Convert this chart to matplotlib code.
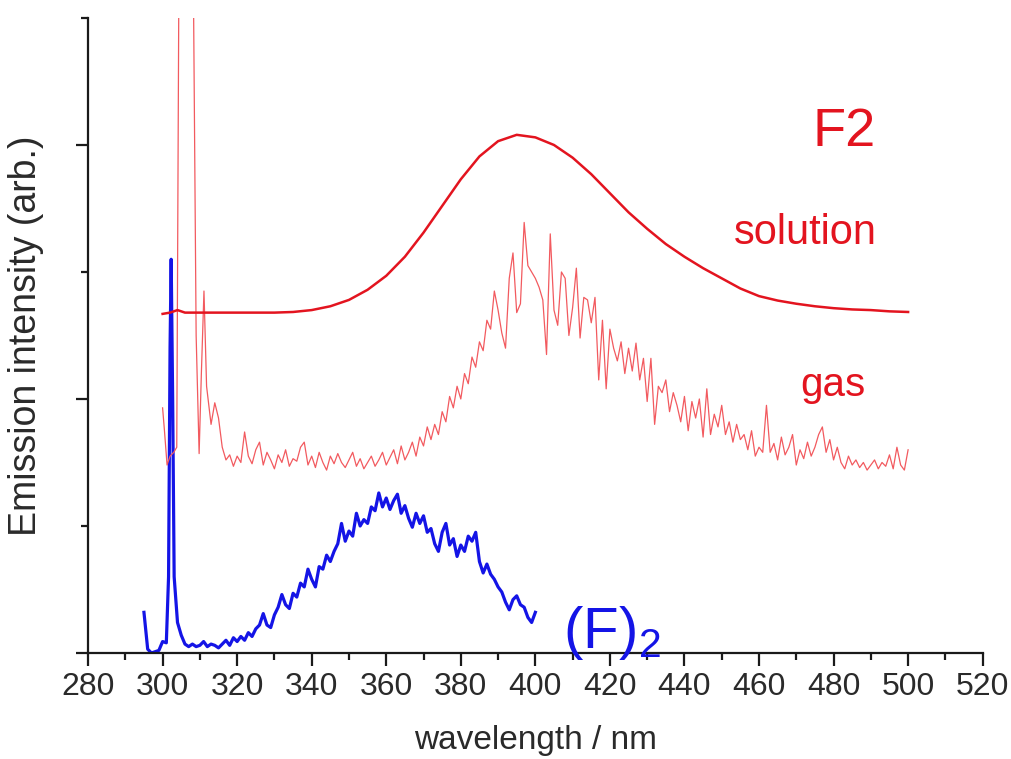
import numpy as np
import matplotlib
matplotlib.use("Agg")
import matplotlib.pyplot as plt
from matplotlib.ticker import MultipleLocator

plt.rcParams['font.family'] = ['Liberation Sans', 'DejaVu Sans']
plt.rcParams['mathtext.fontset'] = 'custom'
plt.rcParams['mathtext.rm'] = 'Liberation Sans'

# ---- data (wavelength in nm, intensity in arb. units) ----
sol_wl = [300, 302, 304, 306, 310, 315, 320, 325, 330, 335, 340, 345, 350, 355,
          360, 365, 370, 375, 380, 385, 390, 395, 400, 405, 410, 415, 420, 425,
          430, 435, 440, 445, 450, 455, 460, 465, 470, 475, 480, 485, 490, 495, 500]
sol_val = [2.67, 2.68, 2.70, 2.68, 2.68, 2.68, 2.68, 2.68, 2.68, 2.685, 2.70, 2.73,
           2.78, 2.86, 2.97, 3.12, 3.31, 3.52, 3.73, 3.91, 4.03, 4.08, 4.06, 4.00,
           3.90, 3.77, 3.62, 3.47, 3.34, 3.22, 3.12, 3.03, 2.95, 2.87, 2.81, 2.775,
           2.75, 2.73, 2.715, 2.705, 2.70, 2.69, 2.685]

gas_head_wl = [300.0, 300.5, 301.2, 302.0, 303.0, 303.8, 304.4, 305.0, 307.5, 308.2,
               309.0, 309.8, 310.4, 311.1, 311.8, 312.7]
gas_head_val = [1.93, 1.75, 1.48, 1.55, 1.58, 1.62, 5.5, 7.0, 7.0, 5.5,
                2.5, 1.57, 2.2, 2.85, 2.1, 1.88]
gas_tail_val = [
    1.80, 1.97, 1.85, 1.62, 1.52, 1.56, 1.47, 1.55, 1.50, 1.74,   # 313-322
    1.55, 1.49, 1.60, 1.66, 1.48, 1.58, 1.52, 1.45, 1.56, 1.50,   # 323-332
    1.60, 1.47, 1.53, 1.51, 1.62, 1.66, 1.48, 1.55, 1.46, 1.58,   # 333-342
    1.50, 1.44, 1.55, 1.49, 1.57, 1.50, 1.46, 1.52, 1.58, 1.47,   # 343-352
    1.53, 1.45, 1.50, 1.55, 1.47, 1.52, 1.58, 1.48, 1.54, 1.60,   # 353-362
    1.49, 1.63, 1.52, 1.58, 1.66, 1.55, 1.70, 1.63, 1.78, 1.68,   # 363-372
    1.80, 1.72, 1.90, 1.82, 2.02, 1.93, 2.10, 2.00, 2.20, 2.12,   # 373-382
    2.33, 2.25, 2.45, 2.38, 2.62, 2.55, 2.85, 2.70, 2.52, 2.40,   # 383-392
    2.95, 3.15, 2.68, 2.75, 3.39, 3.05, 3.00, 2.95, 2.88, 2.78,   # 393-402
    2.35, 3.30, 2.70, 2.58, 3.00, 2.95, 2.50, 2.72, 3.03, 2.48,   # 403-412
    2.80, 2.78, 2.60, 2.80, 2.15, 2.62, 2.08, 2.55, 2.40, 2.30,   # 413-422
    2.45, 2.20, 2.40, 2.22, 2.44, 2.15, 2.32, 1.98, 2.32, 1.80,   # 423-432
    2.10, 2.05, 2.15, 1.90, 2.05, 1.95, 1.82, 2.02, 1.75, 1.98,   # 433-442
    1.85, 2.00, 1.70, 2.08, 1.72, 1.88, 1.78, 1.95, 1.72, 1.82,   # 443-452
    1.66, 1.80, 1.68, 1.72, 1.60, 1.75, 1.55, 1.62, 1.58, 1.95,   # 453-462
    1.58, 1.65, 1.52, 1.70, 1.56, 1.62, 1.72, 1.48, 1.60, 1.53,   # 463-472
    1.66, 1.55, 1.62, 1.72, 1.78, 1.58, 1.68, 1.52, 1.62, 1.50,   # 473-482
    1.45, 1.55, 1.48, 1.52, 1.46, 1.50, 1.44, 1.48, 1.52, 1.45,   # 483-492
    1.50, 1.47, 1.56, 1.45, 1.62, 1.48, 1.44, 1.60]               # 493-500
gas_tail_wl = list(range(313, 501))

blue_head_wl = [295, 296, 297, 298, 299, 300, 301, 301.6, 302.0, 302.3, 302.7, 303.1]
blue_head_val = [0.32, 0.03, 0.00, 0.01, 0.02, 0.09, 0.08, 0.6, 2.4, 3.10, 2.0, 0.6]
blue_tail_val = [
    0.24, 0.14, 0.07, 0.05, 0.07, 0.05, 0.06, 0.09, 0.05, 0.07,   # 304-313
    0.06, 0.04, 0.07, 0.10, 0.06, 0.12, 0.09, 0.13, 0.10, 0.16,   # 314-323
    0.13, 0.19, 0.22, 0.31, 0.22, 0.20, 0.30, 0.36, 0.46, 0.38,   # 324-333
    0.35, 0.47, 0.44, 0.55, 0.52, 0.66, 0.58, 0.52, 0.68, 0.66,   # 334-343
    0.77, 0.72, 0.80, 0.86, 1.02, 0.88, 0.96, 0.92, 1.10, 1.00,   # 344-353
    1.05, 1.02, 1.15, 1.12, 1.26, 1.15, 1.22, 1.13, 1.20, 1.25,   # 354-363
    1.10, 1.16, 1.06, 0.99, 1.10, 1.02, 1.08, 0.95, 0.98, 0.86,   # 364-373
    0.80, 0.95, 1.02, 0.85, 0.90, 0.76, 0.85, 0.80, 0.92, 0.88,   # 374-383
    0.95, 0.72, 0.63, 0.70, 0.62, 0.58, 0.52, 0.48, 0.40, 0.34,   # 384-393
    0.42, 0.45, 0.38, 0.36, 0.28, 0.24, 0.32]                     # 394-400
blue_tail_wl = list(range(304, 401))

x_ticks = list(range(280, 521, 20))

# ---- figure ----
fig = plt.figure(figsize=(10.12, 7.59), dpi=100)
ax = fig.add_axes([0.087, 0.1397, 0.884, 0.8366])

red = '#e3141f'
gas_red = '#f25a5f'
blue = '#1414e6'

ax.plot(blue_head_wl + blue_tail_wl, blue_head_val + blue_tail_val,
        color=blue, lw=2.3, zorder=2)
ax.plot(gas_head_wl + gas_tail_wl, gas_head_val + gas_tail_val,
        color=gas_red, lw=0.9, zorder=3)
ax.plot(sol_wl, sol_val, color=red, lw=1.8, zorder=4)

ax.set_xlim(280, 520)
ax.set_ylim(0, 5)
ax.set_xticks(x_ticks)
ax.xaxis.set_minor_locator(MultipleLocator(10))
ax.yaxis.set_major_locator(MultipleLocator(2))
ax.yaxis.set_minor_locator(MultipleLocator(1))
ax.set_yticklabels([])

for s in ['top', 'right']:
    ax.spines[s].set_visible(False)
for s in ['left', 'bottom']:
    ax.spines[s].set_linewidth(1.6)
    ax.spines[s].set_color('#1a1a1a')

ax.tick_params(axis='both', which='major', direction='out', length=9, width=1.6,
               colors='#1a1a1a', labelsize=23, labelcolor='#2a2a2a')
ax.tick_params(axis='both', which='minor', direction='out', length=5, width=1.6,
               colors='#1a1a1a')
ax.tick_params(axis='x', which='major', pad=5)

ax.set_xlabel('wavelength / nm', fontsize=24, color='#2a2a2a', labelpad=16)
ax.set_ylabel('Emission intensity (arb.)', fontsize=27, color='#2a2a2a', labelpad=19)

ax.text(491.3, 4.10, 'F2', color=red, fontsize=39, ha='right', va='center')
ax.text(491.6, 3.31, 'solution', color=red, fontsize=30, ha='right', va='center')
ax.text(488.6, 2.11, 'gas', color=red, fontsize=29, ha='right', va='center')
ax.text(407.4, 0.16, r'(F)$_\mathrm{2}$', color=blue, fontsize=42, ha='left', va='center')

fig.savefig('out.png', dpi=100)
